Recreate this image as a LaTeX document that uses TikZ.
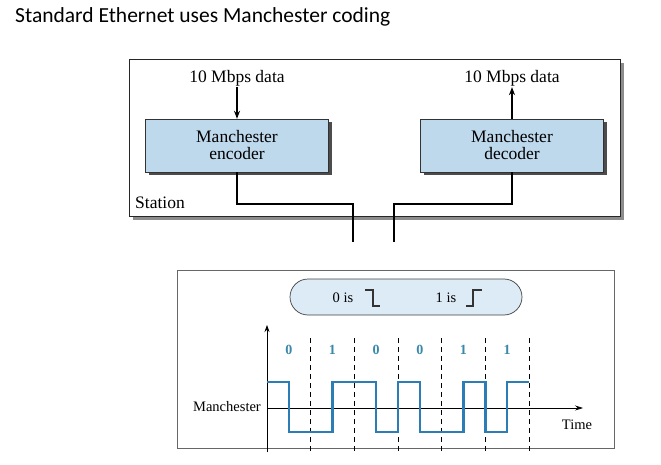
\documentclass[tikz,border=0pt]{standalone}
\usepackage{fontspec}
\setmainfont{Liberation Serif}
\newfontfamily\titlefont{Carlito}
\usetikzlibrary{arrows.meta, shadows}
\definecolor{boxblue}{RGB}{190,216,236}
\definecolor{pillblue}{RGB}{220,235,246}
\definecolor{sigblue}{RGB}{44,124,182}
\definecolor{bitteal}{RGB}{58,136,170}

\begin{document}
\begin{tikzpicture}[x=1pt, y=-1pt, every node/.style={font=\fontsize{17.5}{17}\selectfont, inner sep=1pt},
  codecbox/.style={draw=black!80, fill=boxblue, minimum width=183pt, minimum height=53pt, align=center,
    drop shadow={shadow xshift=3pt, shadow yshift=-3pt, fill=black!70, opacity=1}},
  wire/.style={line width=2.6pt},
  flow/.style={-{Stealth[length=8pt, width=6pt]}, line width=1.3pt},
  axisline/.style={line width=0.7pt},
  sig/.style={sigblue, line width=2.4pt, line join=miter},
  bitmark/.style={draw=black!80, line width=1.2pt},
  bitlabel/.style={font=\bfseries\fontsize{14}{14}\selectfont, text=bitteal},
  smalltext/.style={font=\fontsize{14.5}{14}\selectfont}]
  \useasboundingbox (0,0) rectangle (661,465);
  \node[anchor=west, font=\titlefont\fontsize{21.5}{22}\selectfont] (title) at (14,17) {Standard Ethernet uses Manchester coding};

  % station
  \node[draw=black!85, line width=0.8pt, minimum width=491pt, minimum height=157pt,
    drop shadow={shadow xshift=4pt, shadow yshift=-4pt, fill=black!45, opacity=1}, fill=white] (station) at (374.5,137.5) {};
  \node[anchor=west] (stationlabel) at (134,203) {Station};
  \node[codecbox] (encoder) at (237,145.5) {Manchester\\encoder};
  \node[codecbox] (decoder) at (512,145.5) {Manchester\\decoder};
  \node (datain) at (237,78) {10 Mbps data};
  \node (dataout) at (512,78) {10 Mbps data};
  \draw[flow] (datain.south) -- (encoder.north);
  \draw[flow] (decoder.north) -- (dataout.south);

  % medium
  \coordinate (txbend) at (353,204);
  \coordinate (txend) at (353,242);
  \coordinate (rxbend) at (394,204);
  \coordinate (rxend) at (394,242);
  \draw[wire] (encoder.south) |- (txbend) -- (txend);
  \draw[wire] (decoder.south) |- (rxbend) -- (rxend);

  % signal
  \node[draw=black!60, line width=0.6pt, minimum width=437pt, minimum height=178pt] (signalbox) at (395.5,359) {};
  \node[draw=black!75, line width=0.7pt, fill=pillblue, rounded corners=18pt, minimum width=232pt, minimum height=36pt] (legend) at (406,297) {};
  \node[smalltext] (zerois) at (343,298) {0 is};
  \node[smalltext] (oneis) at (446,298) {1 is};
  \draw[bitmark] (365,290) -- (373,290) -- (373,306) -- (380,306);
  \draw[bitmark] (466,306) -- (473,306) -- (473,290) -- (482,290);

  \draw[axisline, -{Stealth[length=7pt, width=5pt]}] (267,452) -- (267,325);
  \draw[axisline, -{Stealth[length=8pt, width=5pt]}] (267,408) -- (583,408);
  \node[smalltext, anchor=east] (manlabel) at (262,407) {Manchester};
  \node[smalltext] (timelabel) at (577,425) {Time};
  \foreach \i in {1,...,6}
    \draw[axisline, dash pattern=on 5pt off 4pt] (267+43.67*\i,338) -- (267+43.67*\i,452);
  \foreach \i/\b in {0/0, 1/1, 2/0, 3/0, 4/1, 5/1}
    \node[bitlabel] (bit\i) at (288.8+43.67*\i,350) {\b};
  \draw[sig] (267,382) -- (288.8,382) -- (288.8,432) -- (332.5,432) -- (332.5,382) -- (376.2,382)
    -- (376.2,432) -- (398,432) -- (398,382) -- (419.8,382) -- (419.8,432) -- (463.5,432)
    -- (463.5,382) -- (485.3,382) -- (485.3,432) -- (507.2,432) -- (507.2,382) -- (529,382);
\end{tikzpicture}
\end{document}
